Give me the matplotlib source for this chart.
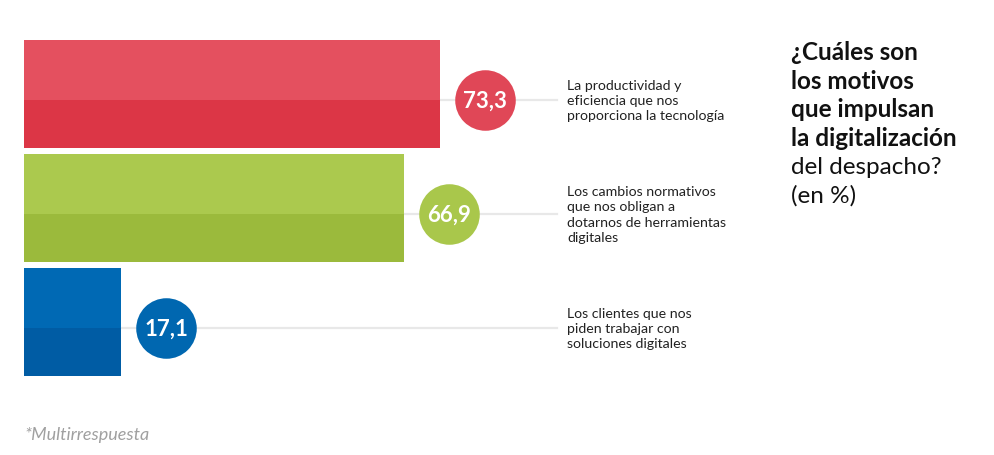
import matplotlib.pyplot as plt

# data
valores = [73.3, 66.9, 17.1]
etiquetas_valor = ['73,3', '66,9', '17,1']
motivos = [
    'La productividad y\neficiencia que nos\nproporciona la tecnología',
    'Los cambios normativos\nque nos obligan a\ndotarnos de herramientas\ndigitales',
    'Los clientes que nos\npiden trabajar con\nsoluciones digitales',
]
titulo_negrita = ['¿Cuáles son', 'los motivos', 'que impulsan', 'la digitalización']
titulo_normal = ['del despacho?', '(en %)']
color_claro = ['#E4505F', '#ABC94E', '#0069B4']
color_oscuro = ['#DC3646', '#9BBA3C', '#005CA4']
color_circulo = ['#E04757', '#A9C74B', '#0067B0']

plt.rcParams['font.family'] = ['Lato', 'DejaVu Sans']

fig = plt.figure(figsize=(9.95, 4.56), dpi=100)
ax = fig.add_axes([0, 0, 1, 1])
px = 5.675  # pixels per unit
ax.set_xlim(-24 / px, (995 - 24) / px)
ax.set_ylim((456 - 95) / 114, -95 / 114)
ax.axis('off')

h = 108 / 114
corte = 6 / 114  # split a bit below the middle
for i, v in enumerate(valores):
    top = i - h / 2
    split = i + corte
    ax.barh(top, v, height=split - top, align='edge', color=color_claro[i], linewidth=0)
    ax.barh(split, v, height=i + h / 2 - split, align='edge', color=color_oscuro[i], linewidth=0)
    ax.plot([v, 94], [split, split], color='#E8E8E8', lw=1.6, zorder=0)
    cx = v + 45 / px
    ax.scatter([cx], [split], s=1900, color=color_circulo[i], linewidth=0, zorder=3)
    ax.text(cx, split, etiquetas_valor[i], color='white', fontsize=16, fontweight='bold',
            ha='center', va='center', zorder=4)
    ax.text((567 - 24) / px, split, motivos[i], fontsize=10.2, color='#222222',
            ha='left', va='center', linespacing=1.32)

# title, one line at a time
lineas = titulo_negrita + titulo_normal
for k, linea in enumerate(lineas):
    peso = 'bold' if linea in titulo_negrita else 'normal'
    fig.text(791 / 995, 1 - (60 + 28.6 * k) / 456, linea, fontsize=17.5, fontweight=peso,
             color='#111111', ha='left', va='baseline')

fig.text(24 / 995, 1 - 435 / 456, '*Multirrespuesta', fontsize=13, style='italic',
         color='#A0A0A0', ha='left', va='center')

fig.savefig('out.png', dpi=100, facecolor='white')
